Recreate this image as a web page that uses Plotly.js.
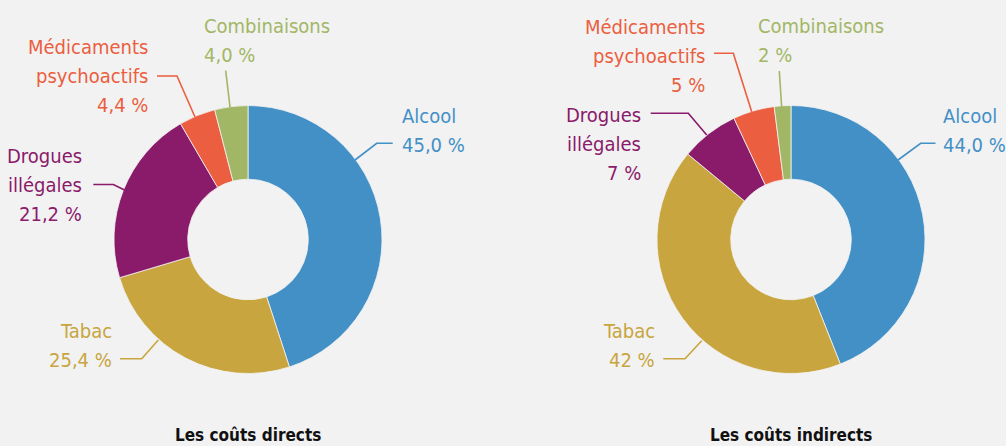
<!DOCTYPE html>
<html>
<head>
<meta charset="utf-8">
<script src="https://cdn.plot.ly/plotly-3.0.1.min.js"></script>
<style>
html,body{margin:0;padding:0;background:#f2f2f2;}
#chart{width:1006px;height:446px;}
</style>
</head>
<body>
<div id="chart"></div>
<script>
// ---- Data ----
const categories = ['Alcool', 'Tabac', 'Drogues<br>illégales', 'Médicaments<br>psychoactifs', 'Combinaisons'];
const directValues = [45.0, 25.4, 21.2, 4.4, 4.0];
const directDecimals = [1, 1, 1, 1, 1];
const indirectValues = [44.0, 42, 7, 5, 2];
const indirectDecimals = [1, 0, 0, 0, 0];
const chartTitles = ['Les coûts directs', 'Les coûts indirects'];
const colors = ['#4390c7', '#c8a53e', '#8a1a6a', '#eb5e40', '#a2b765'];

// ---- Layout helpers ----
const W = 1006, H = 446;
const FONT = "'DejaVu Sans Condensed', 'DejaVu Sans', sans-serif";
const FS = 20;
const LINE = 29;
const px = x => x / W;
const py = y => 1 - y / H;
const fmt = (v, d) => v.toFixed(d).replace('.', ',') + ' %';

// pie geometry (pixels)
const pies = [
  {cx: 248, cy: 239.5, r: 134, values: directValues, dec: directDecimals},
  {cx: 791, cy: 239.5, r: 134, values: indirectValues, dec: indirectDecimals}
];

// label placement per pie (pixels): x, first baseline, anchor
const labelPos = [
  [ {x: 401, b: 122.3, a: 'left'}, {x: 112.7, b: 336.7, a: 'right'}, {x: 82.5, b: 161.7, a: 'right'},
    {x: 149, b: 53.3, a: 'right'}, {x: 203.3, b: 32.3, a: 'left'} ],
  [ {x: 941.5, b: 122.3, a: 'left'}, {x: 656, b: 336.7, a: 'right'}, {x: 642.3, b: 120.7, a: 'right'},
    {x: 705.7, b: 33.3, a: 'right'}, {x: 757.3, b: 32.3, a: 'left'} ]
];
// leader lines per pie (pixels)
const leaders = [
  [ [[355,160],[376.7,143.3],[392.7,143.3]],
    [[158.3,340],[141.7,358.7],[120,358.7]],
    [[124.5,190],[113.3,184.5],[93.3,184.5]],
    [[195,117],[177,76],[157,76]],
    [[230,107],[225.7,70.7]] ],
  [ [[898,160],[920.7,143.3],[935.5,143.3]],
    [[701.7,340.7],[685,358.7],[663.3,358.7]],
    [[706.7,135],[688.3,113.3],[650.7,113.3]],
    [[751.7,111.7],[733.3,53.3],[714,53.3]],
    [[781.7,108],[779.3,71]] ]
];
const titleX = [247.5, 790.8];
const TFS = 17;

const traces = pies.map(p => ({
  type: 'pie',
  labels: categories,
  values: p.values,
  sort: false,
  direction: 'clockwise',
  rotation: 0,
  hole: 0.45,
  textinfo: 'none',
  hoverinfo: 'none',
  showlegend: false,
  marker: {colors: colors, line: {color: '#f2f2f2', width: 0.8}},
  domain: {x: [px(p.cx - p.r), px(p.cx + p.r)], y: [py(p.cy + p.r), py(p.cy - p.r)]}
}));

const annotations = [];
const shapes = [];
pies.forEach((p, pi) => {
  categories.forEach((c, i) => {
    const lp = labelPos[pi][i];
    const lines = c.split('<br>').concat([fmt(p.values[i], p.dec[i])]);
    lines.forEach((t, j) => {
      annotations.push({
        xref: 'paper', yref: 'paper',
        x: px(lp.x), y: py(lp.b + j * LINE - FS * 0.95),
        xanchor: lp.a, yanchor: 'top', align: lp.a,
        showarrow: false, borderpad: 0,
        text: t,
        font: {family: FONT, size: FS, color: colors[i]}
      });
    });
    const pts = leaders[pi][i];
    shapes.push({
      type: 'path', xref: 'paper', yref: 'paper',
      path: pts.map((q, k) => (k ? 'L' : 'M') + px(q[0]) + ',' + py(q[1])).join(' '),
      line: {color: colors[i], width: 1.6}
    });
  });
  annotations.push({
    xref: 'paper', yref: 'paper',
    x: px(titleX[pi]), y: 0,
    xanchor: 'center', yanchor: 'bottom', showarrow: false, borderpad: 0,
    text: '<b>' + chartTitles[pi] + '</b>',
    font: {family: FONT, size: TFS, color: '#111111'}
  });
});

const layout = {
  width: W, height: H,
  margin: {l: 0, r: 0, t: 0, b: 0},
  paper_bgcolor: '#f2f2f2',
  plot_bgcolor: '#f2f2f2',
  annotations: annotations,
  shapes: shapes
};

Plotly.newPlot('chart', traces, layout, {displayModeBar: false, staticPlot: true});
</script>
</body>
</html>
